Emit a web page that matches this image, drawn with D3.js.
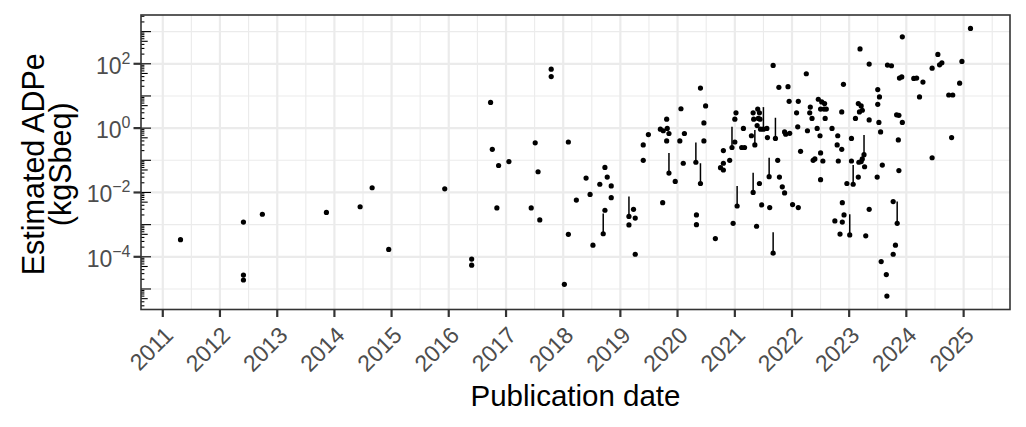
<!DOCTYPE html>
<html>
<head>
<meta charset="utf-8">
<script src="https://cdn.jsdelivr.net/npm/d3@7"></script>
<style>
  body { margin: 0; background: #fff; }
  svg { display: block; font-family: "Liberation Sans", Arial, Helvetica, sans-serif; }
</style>
</head>
<body>
<svg width="1026" height="427"></svg>
<script>
// publication date (decimal year) and estimated ADPe (kgSbeq), one entry per study
const pubYear = [
  2011.31, 2012.41, 2012.41, 2012.41, 2012.74, 2013.86, 2014.45, 2014.66, 2014.95, 2015.93,
  2016.40, 2016.40, 2016.73, 2016.76, 2016.87, 2016.84, 2017.05, 2017.44, 2017.51, 2017.56,
  2017.59, 2017.79, 2017.79, 2018.02, 2018.09, 2018.09, 2018.23, 2018.40, 2018.47, 2018.52,
  2018.64, 2018.73, 2018.77, 2018.84, 2018.84, 2018.73, 2018.70, 2019.15, 2019.15, 2019.23,
  2019.26, 2019.26, 2019.40, 2019.40, 2019.49, 2019.70, 2019.74, 2019.81, 2019.82, 2019.85,
  2019.81, 2019.85, 2019.96, 2019.75, 2020.04, 2020.12, 2020.06, 2020.10, 2020.32, 2020.40,
  2020.33, 2020.33, 2020.40, 2020.49, 2020.46, 2020.46, 2020.66, 2020.75, 2020.80, 2020.80,
  2020.91, 2020.80, 2020.95, 2021.00, 2020.97, 2021.04, 2021.00, 2021.02, 2021.12, 2021.17,
  2021.15, 2021.29, 2021.35, 2021.32, 2021.33, 2021.40, 2021.43, 2021.44, 2021.39, 2021.45,
  2021.56, 2021.41, 2021.50, 2021.57, 2021.60, 2021.67, 2021.67, 2021.61, 2021.71, 2021.75,
  2021.77, 2021.78, 2021.83, 2021.87, 2021.87, 2021.89, 2021.93, 2021.95, 2021.96, 2021.43,
  2021.47, 2021.38, 2021.32, 2022.01, 2022.08, 2022.11, 2022.10, 2022.11, 2022.15, 2022.25,
  2022.27, 2022.32, 2022.31, 2022.35, 2022.37, 2022.40, 2022.44, 2022.46, 2022.49, 2022.50,
  2022.52, 2022.50, 2022.50, 2022.54, 2022.56, 2022.57, 2022.58, 2022.60, 2022.70, 2022.75,
  2022.80, 2022.79, 2022.81, 2022.84, 2022.87, 2022.87, 2022.88, 2022.88, 2022.90, 2022.91,
  2022.96, 2023.01, 2023.04, 2023.04, 2023.07, 2023.11, 2023.16, 2023.16, 2023.17, 2023.19,
  2023.18, 2023.21, 2023.23, 2023.21, 2023.23, 2023.26, 2023.27, 2023.29, 2023.35, 2023.35,
  2023.35, 2023.49, 2023.50, 2023.53, 2023.50, 2023.52, 2023.55, 2023.56, 2023.58, 2023.65,
  2023.66, 2023.67, 2023.74, 2023.77, 2023.77, 2023.81, 2023.83, 2023.87, 2023.84, 2023.86,
  2023.87, 2023.88, 2023.92, 2023.93, 2023.93, 2024.13, 2024.18, 2024.23, 2024.29, 2024.45,
  2024.45, 2024.55, 2024.58, 2024.62, 2024.74, 2024.81, 2024.79, 2024.93, 2024.97, 2025.12
];
const adpe = [
  3.4e-4, 1.2e-3, 2.7e-5, 1.9e-5, 2.1e-3, 2.4e-3, 3.6e-3, 1.4e-2, 1.7e-4, 1.3e-2,
  8.5e-5, 5.5e-5, 6.3, 0.22, 0.069, 3.3e-3, 0.091, 3.3e-3, 0.35, 0.044,
  1.4e-3, 68, 40, 1.4e-5, 0.37, 5.0e-4, 5.8e-3, 0.028, 8.7e-3, 2.3e-4,
  0.018, 0.060, 0.030, 0.016, 6.9e-3, 2.8e-3, 5.2e-4, 9.8e-4, 1.8e-3, 3.0e-3,
  1.6e-3, 1.2e-4, 0.10, 0.30, 0.63, 0.93, 4.8e-3, 1.9, 0.98, 0.68,
  0.40, 0.040, 0.022, 0.83, 0.40, 0.68, 4.0, 0.081, 0.087, 0.019,
  2.0e-3, 1.0e-3, 17.6, 4.9, 1.45, 0.40, 3.7e-4, 0.059, 0.081, 0.050,
  0.10, 0.20, 0.25, 0.37, 1.1e-3, 3.8e-3, 1.9, 3.0, 0.25, 0.25,
  0.98, 0.58, 0.30, 3.0, 1.9, 3.9, 3.0, 1.9, 1.2, 0.93,
  0.98, 2.0, 0.93, 0.51, 0.031, 89, 1.3e-4, 3.4e-3, 0.48, 0.10,
  18.6, 0.030, 0.015, 9.7e-3, 0.76, 0.65, 19.4, 6.8, 0.69, 0.019,
  4.1e-3, 8.9e-4, 0.010, 4.2e-3, 3.0, 6.8, 1.1, 3.4e-3, 0.19, 49,
  0.83, 4.5, 3.0, 2.0, 0.10, 0.11, 0.98, 7.9, 0.58, 3.9,
  6.5, 0.17, 0.025, 0.095, 3.9, 5.8, 2.0, 3.9, 0.98, 1.3e-3,
  0.58, 0.30, 0.095, 5.1e-4, 0.22, 3.2, 4.8e-3, 1.2e-3, 23, 2.0e-3,
  0.019, 4.8e-4, 0.48, 0.095, 0.018, 2.0, 5.8, 0.030, 0.087, 290,
  3.2, 4.9, 3.6, 0.091, 0.11, 0.15, 0.063, 4.5e-4, 98, 1.8,
  3.0e-3, 0.030, 15.8, 9.3, 5.5, 1.5, 0.76, 7.1e-5, 0.071, 2.8e-5,
  6.0e-6, 91, 87, 1.2e-4, 5.2e-3, 2.3e-4, 2.6, 2.5, 1.1e-3, 0.43,
  0.048, 36, 39, 690, 1.5, 35, 36, 9.3, 27, 73,
  0.12, 195, 93, 107, 10.7, 10.7, 0.51, 25, 118, 1260
];

// studies that report a range of estimates
const rangeYear = [2018.70, 2019.15, 2019.85, 2020.32, 2020.40, 2020.95, 2021.04, 2021.35, 2021.50,
  2021.60, 2021.32, 2021.67, 2021.71, 2023.01, 2023.07, 2023.26, 2023.84];
const rangeLow = [5.2e-4, 1.8e-3, 0.040, 0.087, 0.019, 0.25, 3.8e-3, 0.30, 0.93,
  0.031, 0.010, 1.3e-4, 0.48, 4.8e-4, 0.018, 0.15, 1.1e-3];
const rangeHigh = [2.2e-3, 7.5e-3, 0.17, 0.36, 0.081, 1.1, 0.016, 0.87, 4.5,
  0.12, 0.041, 5.8e-4, 2.1, 2.1e-3, 0.071, 0.61, 5.2e-3];

const yearTicks = d3.range(2011, 2026);
const yExponents = [-4, -2, 0, 2];
const yMinorExponents = [-5, -3, -1, 1, 3];

const svg = d3.select("svg");
const panel = {left: 141, right: 1010, top: 15, bottom: 309.5};

// decimal year -> Date (UTC)
function toDate(v) {
  const yr = Math.floor(v);
  const a = Date.UTC(yr, 0, 1), b = Date.UTC(yr + 1, 0, 1);
  return new Date(a + (v - yr) * (b - a));
}

// ggplot-like 5% expansion on both axes
const [d0, d1] = d3.extent(pubYear.map(toDate));
const dPad = (d1 - d0) * 0.05;
const x = d3.scaleUtc()
  .domain([new Date(+d0 - dPad), new Date(+d1 + dPad)])
  .range([panel.left, panel.right]);

const [l0, l1] = d3.extent(adpe, v => Math.log10(v));
const lPad = (l1 - l0) * 0.05;
const y = d3.scaleLog()
  .domain([10 ** (l0 - lPad), 10 ** (l1 + lPad)])
  .range([panel.bottom, panel.top]);

// panel background
svg.append("rect")
  .attr("x", panel.left).attr("y", panel.top)
  .attr("width", panel.right - panel.left).attr("height", panel.bottom - panel.top)
  .attr("fill", "#fff");

const grid = svg.append("g");

// minor grid
grid.selectAll(".vminor")
  .data(yearTicks.map(t => t + 0.5).filter(t => x(toDate(t)) < panel.right))
  .join("line")
    .attr("class", "vminor")
    .attr("x1", d => x(toDate(d))).attr("x2", d => x(toDate(d)))
    .attr("y1", panel.top).attr("y2", panel.bottom)
    .attr("stroke", "#ebebeb").attr("stroke-width", 1.1);

grid.selectAll(".hminor")
  .data(yMinorExponents)
  .join("line")
    .attr("class", "hminor")
    .attr("x1", panel.left).attr("x2", panel.right)
    .attr("y1", d => y(10 ** d)).attr("y2", d => y(10 ** d))
    .attr("stroke", "#ebebeb").attr("stroke-width", 1.1);

// major grid
grid.selectAll(".vmajor")
  .data(yearTicks)
  .join("line")
    .attr("class", "vmajor")
    .attr("x1", d => x(toDate(d))).attr("x2", d => x(toDate(d)))
    .attr("y1", panel.top).attr("y2", panel.bottom)
    .attr("stroke", "#ebebeb").attr("stroke-width", 2.2);

grid.selectAll(".hmajor")
  .data(yExponents)
  .join("line")
    .attr("class", "hmajor")
    .attr("x1", panel.left).attr("x2", panel.right)
    .attr("y1", d => y(10 ** d)).attr("y2", d => y(10 ** d))
    .attr("stroke", "#ebebeb").attr("stroke-width", 2.2);

// log ticks on the left edge of the panel
const logTicks = [];
for (let k = -7; k <= 4; k++) {
  for (let m = 1; m <= 9; m++) {
    const v = m * 10 ** k;
    if (v >= y.domain()[0] && v <= y.domain()[1]) logTicks.push({v, m});
  }
}
svg.append("g").selectAll("line")
  .data(logTicks)
  .join("line")
    .attr("x1", panel.left)
    .attr("x2", d => panel.left + (d.m === 1 ? 10 : d.m === 5 ? 6.7 : 3.4))
    .attr("y1", d => y(d.v)).attr("y2", d => y(d.v))
    .attr("stroke", "#000").attr("stroke-width", 1.1);

// ranges
svg.append("g").selectAll("line")
  .data(rangeYear.map((d, i) => ({d, lo: rangeLow[i], hi: rangeHigh[i]})))
  .join("line")
    .attr("x1", d => x(toDate(d.d))).attr("x2", d => x(toDate(d.d)))
    .attr("y1", d => y(d.lo)).attr("y2", d => y(d.hi))
    .attr("stroke", "#000").attr("stroke-width", 1.5);

// points
svg.append("g").selectAll("circle")
  .data(pubYear.map((d, i) => ({d, v: adpe[i]})))
  .join("circle")
    .attr("cx", d => x(toDate(d.d)))
    .attr("cy", d => y(d.v))
    .attr("r", 2.6)
    .attr("fill", "#000");

// panel border
svg.append("rect")
  .attr("x", panel.left).attr("y", panel.top)
  .attr("width", panel.right - panel.left).attr("height", panel.bottom - panel.top)
  .attr("fill", "none").attr("stroke", "#333").attr("stroke-width", 1.6);

// x axis
const xAxis = svg.append("g");
xAxis.selectAll("line")
  .data(yearTicks)
  .join("line")
    .attr("x1", d => x(toDate(d))).attr("x2", d => x(toDate(d)))
    .attr("y1", panel.bottom).attr("y2", panel.bottom + 7.5)
    .attr("stroke", "#333").attr("stroke-width", 2.2);
xAxis.selectAll("text")
  .data(yearTicks)
  .join("text")
    .attr("transform", d => `translate(${x(toDate(d))},325) rotate(-45)`)
    .attr("text-anchor", "end")
    .attr("dy", "0.72em")
    .attr("font-size", 23)
    .attr("fill", "#4d4d4d")
    .text(d => d);

// y axis
const yAxis = svg.append("g");
yAxis.selectAll("line")
  .data(yExponents)
  .join("line")
    .attr("x1", panel.left - 7.5).attr("x2", panel.left)
    .attr("y1", d => y(10 ** d)).attr("y2", d => y(10 ** d))
    .attr("stroke", "#333").attr("stroke-width", 2.2);
const yLab = yAxis.selectAll("text")
  .data(yExponents)
  .join("text")
    .attr("x", panel.left - 10.5)
    .attr("y", d => y(10 ** d) + 10)
    .attr("text-anchor", "end")
    .attr("font-size", 23)
    .attr("fill", "#4d4d4d");
yLab.append("tspan").text("10");
yLab.append("tspan")
  .attr("dy", -10)
  .attr("font-size", 16)
  .text(d => String(d).replace("-", "\u2212"));

// titles
svg.append("text")
  .attr("x", (panel.left + panel.right) / 2)
  .attr("y", 405.5)
  .attr("text-anchor", "middle")
  .attr("font-size", 29.5)
  .attr("fill", "#000")
  .text("Publication date");

const yTitle = svg.append("text")
  .attr("transform", `translate(0,${(panel.top + panel.bottom) / 2 + 2}) rotate(-90)`)
  .attr("text-anchor", "middle")
  .attr("font-size", 30.5)
  .attr("fill", "#000");
yTitle.append("tspan").attr("x", 0).attr("y", 44).text("Estimated ADPe");
yTitle.append("tspan").attr("x", 0).attr("y", 71).text("(kgSbeq)");
</script>
</body>
</html>
